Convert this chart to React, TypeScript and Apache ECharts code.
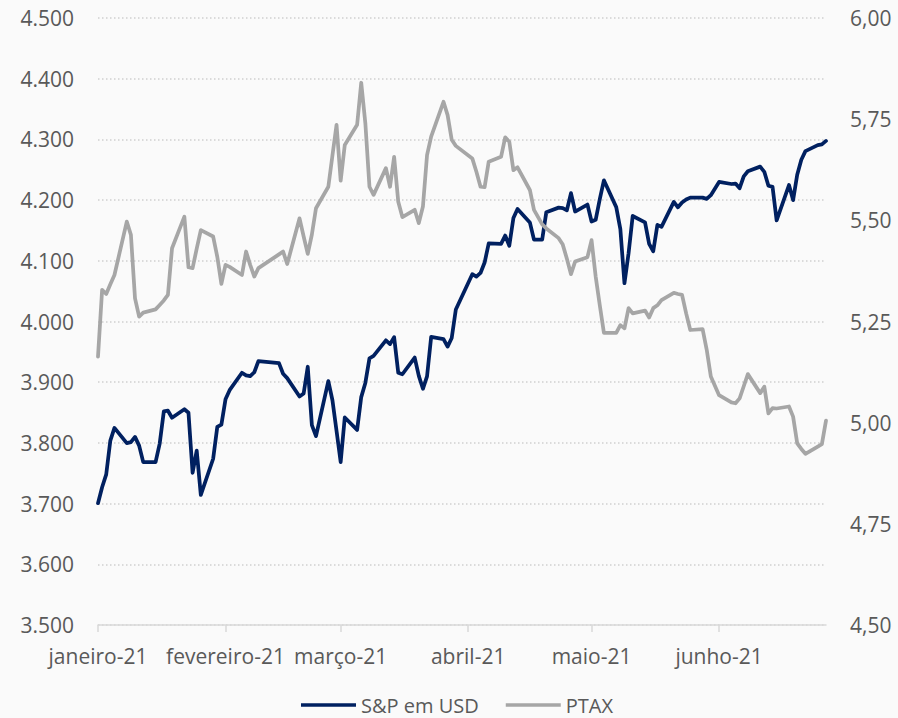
import React, { useEffect, useRef } from "react";
import * as echarts from "echarts";

// Brazilian business days, Jan 4 – Jun 30, 2021
const dates: string[] = [
  "2021-01-04","2021-01-05","2021-01-06","2021-01-07","2021-01-08","2021-01-11","2021-01-12","2021-01-13","2021-01-14","2021-01-15",
  "2021-01-18","2021-01-19","2021-01-20","2021-01-21","2021-01-22","2021-01-25","2021-01-26","2021-01-27","2021-01-28","2021-01-29",
  "2021-02-01","2021-02-02","2021-02-03","2021-02-04","2021-02-05","2021-02-08","2021-02-09","2021-02-10","2021-02-11","2021-02-12",
  "2021-02-17","2021-02-18","2021-02-19","2021-02-22","2021-02-23","2021-02-24","2021-02-25","2021-02-26",
  "2021-03-01","2021-03-02","2021-03-03","2021-03-04","2021-03-05","2021-03-08","2021-03-09","2021-03-10","2021-03-11","2021-03-12",
  "2021-03-15","2021-03-16","2021-03-17","2021-03-18","2021-03-19","2021-03-22","2021-03-23","2021-03-24","2021-03-25","2021-03-26",
  "2021-03-29","2021-03-30","2021-03-31",
  "2021-04-01","2021-04-05","2021-04-06","2021-04-07","2021-04-08","2021-04-09","2021-04-12","2021-04-13","2021-04-14","2021-04-15",
  "2021-04-16","2021-04-19","2021-04-20","2021-04-22","2021-04-23","2021-04-26","2021-04-27","2021-04-28","2021-04-29","2021-04-30",
  "2021-05-03","2021-05-04","2021-05-05","2021-05-06","2021-05-07","2021-05-10","2021-05-11","2021-05-12","2021-05-13","2021-05-14",
  "2021-05-17","2021-05-18","2021-05-19","2021-05-20","2021-05-21","2021-05-24","2021-05-25","2021-05-26","2021-05-27","2021-05-28",
  "2021-05-31",
  "2021-06-01","2021-06-02","2021-06-04","2021-06-07","2021-06-08","2021-06-09","2021-06-10","2021-06-11","2021-06-14","2021-06-15",
  "2021-06-16","2021-06-17","2021-06-18","2021-06-21","2021-06-22","2021-06-23","2021-06-24","2021-06-25","2021-06-28","2021-06-29",
  "2021-06-30",
];

const spxUsd: number[] = [
  3700.65, 3726.86, 3748.14, 3803.79, 3824.68, 3799.61, 3801.19, 3809.84, 3795.54, 3768.25,
  3768.25, 3798.91, 3851.85, 3853.07, 3841.47, 3855.36, 3849.62, 3750.77, 3787.38, 3714.24,
  3773.86, 3826.31, 3830.17, 3871.74, 3886.83, 3915.59, 3911.23, 3909.88, 3916.38, 3934.83,
  3931.33, 3913.97, 3906.71, 3876.5, 3881.37, 3925.43, 3829.34, 3811.15,
  3901.82, 3870.29, 3819.72, 3768.47, 3841.94, 3821.35, 3875.44, 3898.81, 3939.34, 3943.34,
  3968.94, 3962.71, 3974.12, 3915.46, 3913.1, 3940.59, 3910.52, 3889.14, 3909.52, 3974.54,
  3971.09, 3958.55, 3972.89,
  4019.87, 4077.91, 4073.94, 4079.95, 4097.17, 4128.8, 4127.99, 4141.59, 4124.66, 4170.42,
  4185.47, 4163.26, 4134.94, 4134.98, 4180.17, 4187.62, 4186.72, 4183.18, 4211.47, 4181.17,
  4192.66, 4164.66, 4167.59, 4201.62, 4232.6, 4188.43, 4152.1, 4063.04, 4112.5, 4173.85,
  4163.29, 4127.83, 4115.68, 4159.12, 4155.86, 4197.05, 4188.13, 4195.99, 4200.88, 4204.11,
  4204.11,
  4202.04, 4208.12, 4229.89, 4226.52, 4227.26, 4219.55, 4239.18, 4247.44, 4255.15, 4246.59,
  4223.7, 4221.86, 4166.45, 4224.79, 4200.0, 4241.84, 4266.49, 4280.7, 4290.61, 4291.8,
  4297.5,
];

const ptax: number[] = [
  5.163, 5.328, 5.318, 5.342, 5.365, 5.497, 5.464, 5.307, 5.262, 5.272,
  5.28, 5.291, 5.302, 5.316, 5.431, 5.509, 5.384, 5.382, 5.43, 5.476,
  5.46, 5.41, 5.343, 5.39, 5.385, 5.365, 5.423, 5.39, 5.361, 5.382,
  5.416, 5.423, 5.392, 5.505, 5.46, 5.417, 5.465, 5.53,
  5.583, 5.66, 5.736, 5.598, 5.686, 5.736, 5.84, 5.74, 5.583, 5.563,
  5.629, 5.583, 5.657, 5.546, 5.508, 5.526, 5.493, 5.534, 5.661, 5.707,
  5.793, 5.76, 5.699,
  5.684, 5.653, 5.62, 5.583, 5.582, 5.645, 5.657, 5.705, 5.694, 5.624,
  5.631, 5.575, 5.526, 5.49, 5.48, 5.456, 5.44, 5.405, 5.367, 5.398,
  5.409, 5.451, 5.361, 5.29, 5.222, 5.222, 5.241, 5.233, 5.283, 5.27,
  5.277, 5.26, 5.283, 5.29, 5.303, 5.321, 5.318, 5.316, 5.27, 5.229,
  5.231,
  5.18, 5.114, 5.068, 5.05, 5.048, 5.06, 5.09, 5.12, 5.073, 5.089,
  5.023, 5.036, 5.035, 5.04, 5.015, 4.949, 4.935, 4.923, 4.941, 4.947,
  5.005,
];

const tickDates: string[] = ["2021-01-04", "2021-02-04", "2021-03-04", "2021-04-04", "2021-05-04", "2021-06-04"];
const tickLabels: string[] = ["janeiro-21", "fevereiro-21", "março-21", "abril-21", "maio-21", "junho-21"];

const seriesNames: string[] = ["S&P em USD", "PTAX"];
const colors: string[] = ["#002060", "#A6A6A6"];

// day number since the first date (calendar days)
const dayOf = (s: string) => {
  const [y, m, d] = s.split("-").map(Number);
  const [y0, m0, d0] = dates[0].split("-").map(Number);
  return Math.round((Date.UTC(y, m - 1, d) - Date.UTC(y0, m0 - 1, d0)) / 86400000);
};

const FONT = "'Open Sans', 'Noto Sans', sans-serif";
const TXT = "#595959";

export default function App() {
  const ref = useRef<HTMLDivElement>(null);
  useEffect(() => {
    if (!ref.current) return;
    const chart = echarts.init(ref.current, undefined, { renderer: "svg" });
    const tickDays = tickDates.map(dayOf);
    const option: any = {
      animation: false,
      backgroundColor: "#fafafa",
      textStyle: { fontFamily: FONT },
      grid: { left: 98, right: 72, top: 18, bottom: 93, containLabel: false },
      legend: {
        data: seriesNames,
        left: 301,
        top: 695,
        icon: "rect",
        itemWidth: 55,
        itemHeight: 3.5,
        itemGap: 27,
        padding: 0,
        textStyle: { fontSize: 20, color: TXT, fontFamily: FONT, lineHeight: 20 },
      },
      xAxis: {
        type: "value",
        min: 0,
        max: dayOf(dates[dates.length - 1]),
        axisLine: { show: true, lineStyle: { color: "#d9d9d9", width: 1.5 } },
        axisTick: { show: true, customValues: tickDays, length: 7, lineStyle: { color: "#d9d9d9", width: 1.5 } },
        axisLabel: {
          customValues: tickDays,
          margin: 20,
          fontSize: 21,
          color: TXT,
          fontFamily: FONT,
          showMinLabel: true,
          formatter: (v: number) => {
            const i = tickDays.indexOf(Math.round(v));
            return i >= 0 ? tickLabels[i] : "";
          },
        },
        splitLine: { show: false },
      },
      yAxis: [
        {
          type: "value",
          min: 3500,
          max: 4500,
          interval: 100,
          axisLine: { show: false },
          axisTick: { show: false },
          axisLabel: {
            margin: 24,
            fontSize: 21,
            color: TXT,
            fontFamily: FONT,
            formatter: (v: number) => {
              const r = Math.round(v);
              return `${Math.floor(r / 1000)}.${String(r % 1000).padStart(3, "0")}`;
            },
          },
          splitLine: { show: true, lineStyle: { color: "#d0d0d0", width: 1.5, type: [1.5, 2.5] } },
        },
        {
          type: "value",
          min: 4.5,
          max: 6,
          interval: 0.25,
          position: "right",
          axisLine: { show: false },
          axisTick: { show: false },
          axisLabel: {
            margin: 24,
            fontSize: 21,
            color: TXT,
            fontFamily: FONT,
            formatter: (v: number) => v.toFixed(2).replace(".", ","),
          },
          splitLine: { show: false },
        },
      ],
      series: [
        {
          name: seriesNames[0],
          type: "line",
          yAxisIndex: 0,
          showSymbol: false,
          symbol: "none",
          data: dates.map((d, i) => [dayOf(d), spxUsd[i]]),
          lineStyle: { color: colors[0], width: 3.75, join: "round", cap: "round" },
          itemStyle: { color: colors[0] },
        },
        {
          name: seriesNames[1],
          type: "line",
          yAxisIndex: 1,
          showSymbol: false,
          symbol: "none",
          data: dates.map((d, i) => [dayOf(d), ptax[i]]),
          lineStyle: { color: colors[1], width: 3.75, join: "round", cap: "round" },
          itemStyle: { color: colors[1] },
        },
      ],
    };
    chart.setOption(option);
    return () => chart.dispose();
  }, []);
  return (
    <div
      ref={ref}
      style={{ position: "fixed", left: 0, top: 0, width: 898, height: 718 }}
    />
  );
}
